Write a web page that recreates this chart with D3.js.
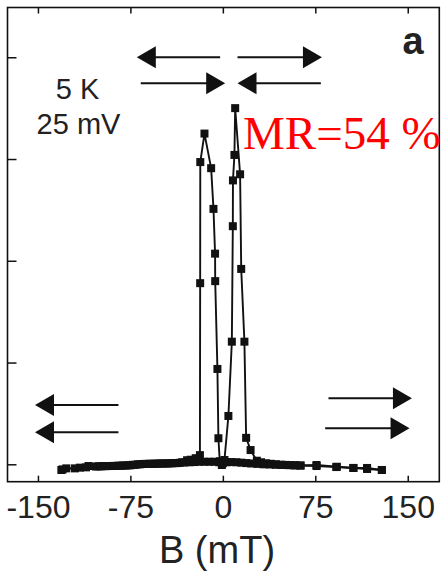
<!DOCTYPE html>
<html>
<head>
<meta charset="utf-8">
<script src="https://cdn.jsdelivr.net/npm/d3@7/dist/d3.min.js"></script>
<style>
  html, body { margin: 0; padding: 0; background: #fff; }
  svg { display: block; }
</style>
</head>
<body>
<svg id="chart" width="442" height="571"></svg>
<script>
// Magnetoresistance loop at 5 K, 25 mV bias: field sweep down (left peak) and up (right peak)
const sweepDownB = [129, 117, 106, 92, 76, 63, 58, 53, 48, 43, 38, 33, 28, 23, 19, 15, 11, 7, 3, -0.8, -2.5,
  -3.6, -4.4, -6.2, -6.3, -7.6, -9.5, -14.9, -18.3, -18.4, -18.6, -22, -26, -29, -33, -37, -41, -45, -49, -53,
  -57, -61, -65, -69, -73, -77, -81, -85, -89, -93, -97, -101, -109, -116, -127, -131];
const sweepDownR = [-0.056, -0.046, -0.036, -0.027, -0.017, -0.012, -0.01, -0.008, -0.006, -0.004, -0.002, 0.0,
  0.004, 0.008, 0.012, 0.016, 0.02, 0.022, 0.02, -0.007, 0.03,
  0.256, 0.937, 1.80, 2.07, 2.51, 2.91, 3.25, 2.97, 1.78, 0.09, 0.06, 0.045, 0.04, 0.02, 0.012, 0.01, 0.008,
  0.008, 0.006, 0.005, 0.004, 0.003, 0.0, -0.005, -0.01, -0.012, -0.014, -0.016, -0.017, -0.018, -0.02,
  -0.017, -0.033, -0.04, -0.056];

const sweepUpB = [-130, -120, -111, -103, -99, -95, -91, -87, -83, -79, -75, -71, -67, -63, -59, -55, -51, -47,
  -43, -39, -35, -31, -27, -23, -19, -15, -11, -7, -3, 0, 1.3, 4.5, 7.3, 8.1, 8.2, 9.4, 10, 14, 14.9, 17.5,
  18.9, 22.5, 27.6, 31, 35, 39, 43, 47, 51, 55, 59, 63, 76, 92.5, 105.8, 117, 129];
const sweepUpR = [-0.05, -0.04, -0.03, -0.022, -0.02, -0.018, -0.017, -0.016, -0.014, -0.012, -0.01, -0.005,
  0.0, 0.004, 0.005, 0.006, 0.008, 0.008, 0.01, 0.012, 0.015, 0.018, 0.02, 0.022, 0.025, 0.025, 0.025, 0.025,
  0.02, 0.01, 0.042, 0.475, 1.205, 2.34, 2.79, 3.04, 3.50, 2.85, 1.92, 1.205, 0.26, 0.14, 0.035, 0.02, 0.01,
  0.005, 0.0, -0.004, -0.006, -0.008, -0.01, -0.012, -0.007, -0.024, -0.036, -0.036, -0.056];

const xTicks = [-150, -75, 0, 75, 150];
const yTicks = [0, 1, 2, 3, 4];

// Magnetization configuration arrows: [B tail, B tip, R]
const arrows = [
  [-2.2, -69.8, 4.0], [11.9, 80.4, 4.0],
  [-66.6, 1.9, 3.745], [79.5, 11.9, 3.745],
  [-84.7, -152.4, 0.583], [-84.7, -152.4, 0.315],
  [85.7, 153.4, 0.649], [83.0, 151.5, 0.354]
];

const svg = d3.select("#chart");
const margin = { left: 7.5, top: 7.5, right: 2.7, bottom: 89.3 };
const W = 442 - margin.left - margin.right;
const H = 571 - margin.top - margin.bottom;

const x = d3.scaleLinear().domain([-174.7, 175.6]).range([0, W]);
const y = d3.scaleLinear().domain([-0.171, 4.489]).range([H, 0]);

const g = svg.append("g").attr("transform", `translate(${margin.left},${margin.top})`);

const ink = "#111";
const sansFont = "'Liberation Sans', Arial, sans-serif";

// Axes: bottom with labels, top/left ticks only, all ticks pointing inward
const xAxis = g.append("g").attr("transform", `translate(0,${H})`)
  .call(d3.axisBottom(x).tickValues(xTicks).tickSize(-6).tickPadding(14)
    .tickFormat(d => String(d)));
xAxis.selectAll("text").attr("font-family", sansFont).attr("font-size", 32).attr("fill", "#222")
  .attr("dy", "0.71em");

g.append("g").call(d3.axisTop(x).tickValues(xTicks).tickSize(-6).tickFormat(""));
g.append("g").call(d3.axisLeft(y).tickValues(yTicks).tickSize(-9).tickFormat(""));

g.selectAll(".domain").remove();
g.selectAll(".tick line").attr("stroke", ink).attr("stroke-width", 1.5);

g.append("rect").attr("x", 0).attr("y", 0).attr("width", W).attr("height", H)
  .attr("fill", "none").attr("stroke", ink).attr("stroke-width", 1.6);

// Data lines and square markers
const line = d3.line().x(d => x(d[0])).y(d => y(d[1]));
const sweeps = [
  d3.zip(sweepDownB, sweepDownR),
  d3.zip(sweepUpB, sweepUpR)
];
const ms = 8;
sweeps.forEach(pts => {
  g.append("path").datum(pts).attr("d", line)
    .attr("fill", "none").attr("stroke", ink).attr("stroke-width", 1.9);
  g.append("g").selectAll("rect").data(pts).join("rect")
    .attr("x", d => x(d[0]) - ms / 2).attr("y", d => y(d[1]) - ms / 2)
    .attr("width", ms).attr("height", ms).attr("fill", ink);
});

// Arrows
const headL = 19, headW = 11;
arrows.forEach(([b0, b1, r]) => {
  const x0 = x(b0), x1 = x(b1), yy = y(r);
  const dir = Math.sign(x1 - x0);
  g.append("line").attr("x1", x0).attr("x2", x1 - dir * headL * 0.6).attr("y1", yy).attr("y2", yy)
    .attr("stroke", ink).attr("stroke-width", 2);
  g.append("path")
    .attr("d", `M${x1},${yy} L${x1 - dir * headL},${yy - headW} L${x1 - dir * headL},${yy + headW} Z`)
    .attr("fill", ink);
});

// Labels
svg.append("text").attr("x", 77.5).attr("y", 98.5).attr("text-anchor", "middle")
  .attr("font-family", sansFont).attr("font-size", 29).attr("fill", "#222").text("5 K");
svg.append("text").attr("x", 78.5).attr("y", 133.5).attr("text-anchor", "middle")
  .attr("font-family", sansFont).attr("font-size", 29).attr("fill", "#222").text("25 mV");
svg.append("text").attr("x", 413).attr("y", 53.5).attr("text-anchor", "middle")
  .attr("font-family", sansFont).attr("font-size", 38).attr("font-weight", "bold").attr("fill", "#222").text("a");
svg.append("text").attr("x", 243).attr("y", 148.5)
  .attr("font-family", "'Liberation Serif', 'Times New Roman', serif").attr("font-size", 47)
  .attr("fill", "#ff0000").text("MR=54 %");
svg.append("text").attr("x", 217).attr("y", 563).attr("text-anchor", "middle")
  .attr("font-family", sansFont).attr("font-size", 38).attr("fill", "#222").text("B (mT)");
</script>
</body>
</html>
